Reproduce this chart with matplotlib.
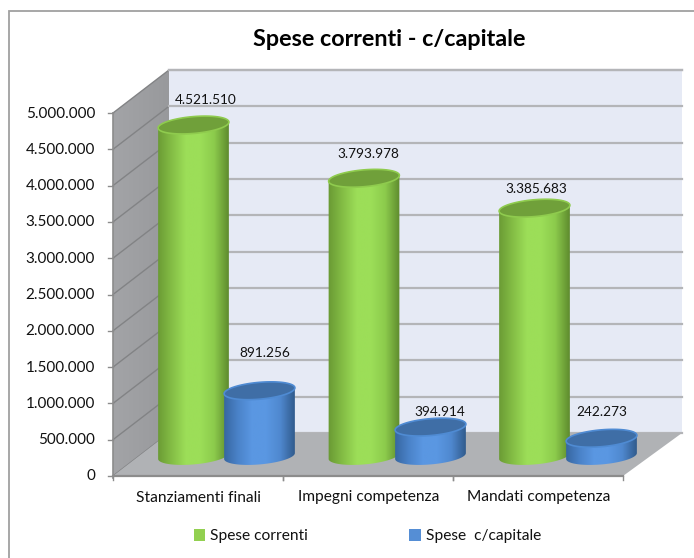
import numpy as np
import matplotlib
matplotlib.use('Agg')
import matplotlib.pyplot as plt
from matplotlib.colors import LinearSegmentedColormap
from matplotlib.patches import Patch, Polygon, Rectangle

plt.rcParams['font.family'] = ['Lato', 'DejaVu Sans']

categories = ['Stanziamenti finali', 'Impegni competenza', 'Mandati competenza']
spese_correnti = [4521510, 3793978, 3385683]
spese_capitale = [891256, 394914, 242273]
y_ticks = [0, 500000, 1000000, 1500000, 2000000, 2500000, 3000000, 3500000, 4000000, 4500000, 5000000]
title = 'Spese correnti - c/capitale'
legend_names = ['Spese correnti', 'Spese  c/capitale']


def fmt(v):
    return f'{v:,}'.replace(',', '.')


# pixel geometry of the fake 3d box
FRONT_ZERO = 476
BACK_ZERO = 433
PX_PER_UNIT = 363 / 5000000
CYL_PER_UNIT = 7.32e-5
LEFT = 113
RIGHT = 623
DX = 56
DY = 43
BASE_Y = 456


def front_y(v):
    return FRONT_ZERO - v * PX_PER_UNIT


def ellipse(cx, cy, a=35.5, b=8.4, tilt=-5):
    t = np.linspace(0, 2 * np.pi, 121)
    th = np.radians(tilt)
    x = a * np.cos(t)
    y = b * np.sin(t)
    return cx + x * np.cos(th) - y * np.sin(th), cy + x * np.sin(th) + y * np.cos(th)


def cylinder(ax, cx, value, cmap, top_color, rim_color, z):
    top_y = BASE_Y - value * CYL_PER_UNIT
    bx, by = ellipse(cx, BASE_Y)
    tx, ty = ellipse(cx, top_y)
    # lower half of the base + upper half of the top
    xs = np.r_[bx[:61], tx[60:]]
    ys = np.r_[by[:61], ty[60:]]
    body = Polygon(np.c_[xs, ys], closed=True, fc='none', ec='none', zorder=z)
    ax.add_patch(body)
    grad = np.linspace(0, 1, 100).reshape(1, -1)
    im = ax.imshow(grad, extent=(cx - 36, cx + 36, BASE_Y + 12, top_y - 12), cmap=cmap,
                   aspect='auto', zorder=z, interpolation='bilinear')
    im.set_clip_path(body)
    ax.fill(tx, ty, fc=top_color, ec=rim_color, lw=1.2, zorder=z + 0.1)


green_cmap = LinearSegmentedColormap.from_list('g', ['#6a9a34', '#84bd45', '#9cde58', '#9cde58', '#8ccb4c', '#5f8c2e'])
blue_cmap = LinearSegmentedColormap.from_list('b', ['#36669f', '#4a82c8', '#5a97e2', '#5a97e2', '#4f88cf', '#315c8e'])
wall_cmap = LinearSegmentedColormap.from_list('w', ['#a3a4a7', '#98999c'])

fig = plt.figure(figsize=(6.94, 5.58), dpi=100, facecolor='white')
ax = fig.add_axes([0, 0, 1, 1])
ax.axis('off')

# chart frame, right and bottom edges fall outside the picture
ax.add_patch(Rectangle((9.5, 10.5), 720, 600, fc='white', ec='#a0a0a0', lw=1.3))

# back wall, side wall, floor
top = front_y(y_ticks[-1])
ax.add_patch(Polygon([(LEFT + DX, BACK_ZERO), (RIGHT + DX + 3, BACK_ZERO), (RIGHT + DX + 3, top - DY), (LEFT + DX, top - DY)],
                     fc='#e6eaf5', ec='none', zorder=1))
side = Polygon([(LEFT, FRONT_ZERO), (LEFT + DX, BACK_ZERO), (LEFT + DX, top - DY), (LEFT, top)], fc='none', ec='none', zorder=1)
ax.add_patch(side)
wall_im = ax.imshow(np.linspace(0, 1, 50).reshape(1, -1), extent=(LEFT, LEFT + DX, FRONT_ZERO, top - DY),
                    cmap=wall_cmap, aspect='auto', zorder=1)
wall_im.set_clip_path(side)

for v in y_ticks:
    y = front_y(v)
    ax.plot([LEFT, LEFT + DX], [y, y - DY], color='#828385', lw=1, zorder=2)
    ax.plot([LEFT + DX, RIGHT + DX + 3], [y - DY, y - DY], color='#b4b5b8', lw=1.6, zorder=2)
    ax.plot([LEFT - 5, LEFT], [y, y], color='#8c8c8c', lw=1, zorder=4)
    ax.text(LEFT - 18, y + 0.5, fmt(v), ha='right', va='center', fontsize=11, color='#111111')

ax.add_patch(Polygon([(LEFT, FRONT_ZERO), (RIGHT, FRONT_ZERO), (RIGHT + DX + 3, BACK_ZERO), (LEFT + DX, BACK_ZERO)],
                     fc='#b0b2b5', ec='none', zorder=3))
ax.plot([LEFT, LEFT], [FRONT_ZERO + 2, top], color='#8c8c8c', lw=1.2, zorder=4)
ax.plot([LEFT, RIGHT], [FRONT_ZERO, FRONT_ZERO], color='#8c8c8c', lw=1.6, zorder=4)
ax.plot([LEFT + DX, RIGHT + DX + 3], [top - DY, top - DY], color='#b4b5b8', lw=1.6, zorder=4)

step = (RIGHT - LEFT) / len(categories)
green_label_dx = [12.5, 4, 1.5]
green_label_dy = [25, 24.5, 19.5]
blue_label_dx = [5.5, 9.5, 0]
blue_label_dy = [38, 15, 26]

for i, cat in enumerate(categories):
    left = LEFT + i * step
    ax.plot([left, left], [FRONT_ZERO, FRONT_ZERO + 4], color='#8c8c8c', lw=1, zorder=4)
    ax.plot([left + step] * 2, [FRONT_ZERO, FRONT_ZERO + 4], color='#8c8c8c', lw=1, zorder=4)
    ax.text(left + step / 2 + 1, 497.5, cat, ha='center', va='center', fontsize=11.2, color='#111111')

    cx_g = 193.5 + i * 170.5
    cx_b = 259.5 + i * 171
    z = 5 + i
    cylinder(ax, cx_g, spese_correnti[i], green_cmap, '#70a03a', '#8fcb4e', z)
    cylinder(ax, cx_b, spese_capitale[i], blue_cmap, '#3f6ea6', '#4f8bd3', z + 0.3)
    ax.text(cx_g + green_label_dx[i], BASE_Y - spese_correnti[i] * CYL_PER_UNIT - green_label_dy[i], fmt(spese_correnti[i]),
            ha='center', va='center', fontsize=9.8, color='#111111', zorder=20)
    ax.text(cx_b + blue_label_dx[i], BASE_Y - spese_capitale[i] * CYL_PER_UNIT - blue_label_dy[i], fmt(spese_capitale[i]),
            ha='center', va='center', fontsize=9.8, color='#111111', zorder=20)

ax.text(389, 39, title, ha='center', va='center', fontsize=16.8, fontweight='bold', color='black')

handles = [Patch(fc='#92d050', ec='none'), Patch(fc='#558ed5', ec='none')]
ax.legend(handles, legend_names, ncol=2, frameon=False, loc='center', bbox_to_anchor=(367.5, 536),
          bbox_transform=ax.transData, fontsize=11.2, handlelength=0.72, handleheight=0.8,
          handletextpad=0.33, columnspacing=6.5, labelcolor='#111111')

ax.set_xlim(0, 694)
ax.set_ylim(558, 0)
fig.savefig('out.png', dpi=100)
